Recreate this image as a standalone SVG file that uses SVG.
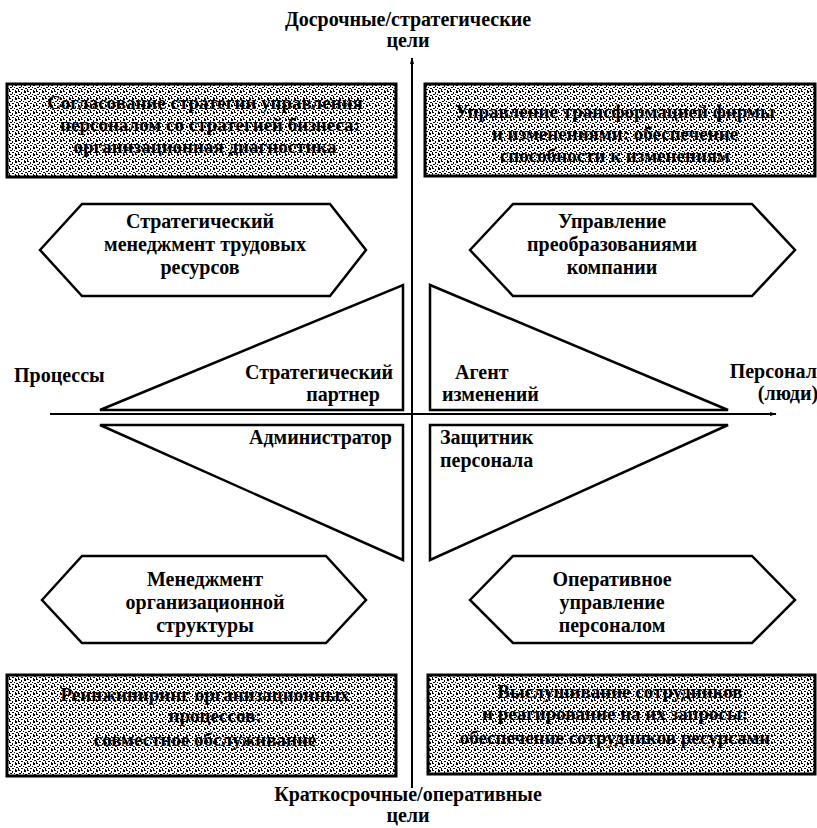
<svg xmlns="http://www.w3.org/2000/svg" width="817" height="828" viewBox="0 0 817 828">
<style>
.t{font-family:"Liberation Serif","Times New Roman",serif;font-weight:bold;font-size:20px;fill:#000}
.c{text-anchor:middle}
.e{text-anchor:end}
.bx{font-family:"Liberation Serif","Times New Roman",serif;font-weight:bold;font-size:19px;fill:#000;text-anchor:middle}
.box{fill:url(#noise);stroke:#000;stroke-width:3}
.shape{fill:#fff;stroke:#000;stroke-width:2.5;stroke-linejoin:miter}
.axis{stroke:#000;stroke-width:2;fill:none}
</style>
<defs>
<pattern id="noise" width="9" height="7" patternUnits="userSpaceOnUse">
<rect width="9" height="7" fill="#fff"/>
<rect x="0" y="0" width="2" height="1" fill="#000"/>
<rect x="3" y="1" width="1" height="2" fill="#000"/>
<rect x="6" y="0" width="2" height="2" fill="#000"/>
<rect x="1" y="3" width="2" height="1" fill="#000"/>
<rect x="5" y="3" width="1" height="1" fill="#000"/>
<rect x="7" y="4" width="2" height="1" fill="#000"/>
<rect x="0" y="5" width="1" height="2" fill="#000"/>
<rect x="3" y="5" width="2" height="1" fill="#000"/>
<rect x="6" y="6" width="1" height="1" fill="#000"/>
</pattern>
<marker id="arr" viewBox="0 0 10 10" refX="9" refY="5" markerWidth="7" markerHeight="7" orient="auto" markerUnits="userSpaceOnUse">
<path d="M0,2 L10,5 L0,8 Z" fill="#000"/>
</marker>
</defs>
<rect width="817" height="828" fill="#fff"/>

<g id="connectors">
<line class="axis" x1="412" y1="788" x2="412" y2="58" marker-end="url(#arr)"/>
<line class="axis" x1="50" y1="414" x2="776" y2="414" marker-end="url(#arr)"/>
</g>

<g id="label-top">
<text class="t c" x="408" y="26">Досрочные/стратегические</text>
<text class="t c" x="408" y="47">цели</text>
</g>
<g id="label-bottom">
<text class="t c" x="408" y="801" font-size="18">Краткосрочные/оперативные</text>
<text class="t c" x="408" y="822" font-size="18">цели</text>
</g>
<g id="label-left">
<text class="t" x="14" y="382">Процессы</text>
</g>
<g id="label-right">
<text class="t e" x="817" y="378">Персонал</text>
<text class="t c" x="788" y="400">(люди)</text>
</g>

<g id="box-tl">
<rect class="box" x="7" y="84" width="389" height="93"/>
<text class="bx" x="205" y="109">Согласование стратегии управления</text>
<text class="bx" x="210" y="131">персоналом со стратегией бизнеса:</text>
<text class="bx" x="205" y="153">организационная диагностика</text>
</g>
<g id="box-tr">
<rect class="box" x="425" y="84" width="390" height="92"/>
<text class="bx" x="615" y="118">Управление трансформацией фирмы</text>
<text class="bx" x="615" y="140">и изменениями: обеспечение</text>
<text class="bx" x="615" y="162">способности к изменениям</text>
</g>
<g id="box-bl">
<rect class="box" x="7" y="675" width="389" height="101"/>
<text class="bx" x="205" y="701">Реинжиниринг организационных</text>
<text class="bx" x="215" y="722">процессов:</text>
<text class="bx" x="205" y="746">совместное обслуживание</text>
</g>
<g id="box-br">
<rect class="box" x="428" y="675" width="387" height="99"/>
<text class="bx" x="620" y="698">Выслушивание сотрудников</text>
<text class="bx" x="615" y="720">и реагирование на их запросы:</text>
<text class="bx" x="615" y="744">обеспечение сотрудников ресурсами</text>
</g>

<g id="hex-tl">
<polygon class="shape" points="40,250 82,204 330,204 366,250 330,296 82,296"/>
<text class="t c" x="200" y="228">Стратегический</text>
<text class="t c" x="205" y="251">менеджмент трудовых</text>
<text class="t c" x="200" y="274">ресурсов</text>
</g>
<g id="hex-tr">
<polygon class="shape" points="470,250 513,204 752,204 795,250 752,296 513,296"/>
<text class="t c" x="612" y="228">Управление</text>
<text class="t c" x="612" y="251">преобразованиями</text>
<text class="t c" x="612" y="274">компании</text>
</g>

<g id="tri-tl">
<polygon class="shape" points="100,410 403,285 403,410"/>
<text class="t e" x="393" y="379">Стратегический</text>
<text class="t c" x="343" y="401">партнер</text>
</g>
<g id="tri-tr">
<polygon class="shape" points="430,285 430,410 728,410"/>
<text class="t" x="455" y="379">Агент</text>
<text class="t" x="442" y="401">изменений</text>
</g>
<g id="tri-bl">
<polygon class="shape" points="100,425 403,425 403,560"/>
<text class="t e" x="392" y="444">Администратор</text>
</g>
<g id="tri-br">
<polygon class="shape" points="430,425 728,425 430,560"/>
<text class="t" x="440" y="444">Защитник</text>
<text class="t" x="440" y="467">персонала</text>
</g>

<g id="hex-bl">
<polygon class="shape" points="42,600 82,556 326,556 366,600 326,643 82,643"/>
<text class="t c" x="205" y="586">Менеджмент</text>
<text class="t c" x="205" y="609">организационной</text>
<text class="t c" x="205" y="632">структуры</text>
</g>
<g id="hex-br">
<polygon class="shape" points="470,600 513,556 752,556 795,600 752,643 513,643"/>
<text class="t c" x="612" y="586">Оперативное</text>
<text class="t c" x="612" y="609">управление</text>
<text class="t c" x="612" y="632">персоналом</text>
</g>
</svg>
